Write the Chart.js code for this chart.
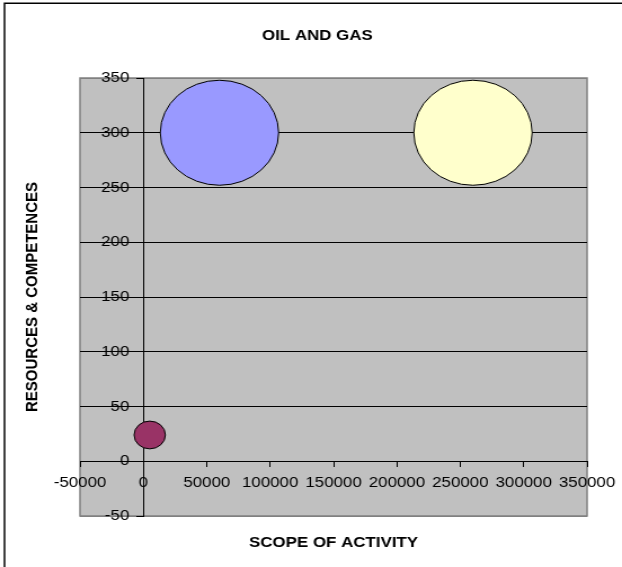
<!DOCTYPE html>
<html>
<head>
<meta charset="utf-8">
<script src="https://cdn.jsdelivr.net/npm/chart.js@4/dist/chart.umd.min.js"></script>
<style>
  html, body { margin: 0; padding: 0; background: #fff; overflow: hidden; }
  /* the chart is laid out narrower and widened to the page, giving the oval bubbles */
  #wrap { width: 552px; height: 567px; transform: scaleX(1.126812); transform-origin: 0 0; }
</style>
</head>
<body>
<div id="wrap"><canvas id="chart" width="552" height="567"></canvas></div>
<script>
// ---- data ----
const seriesNames = ['Series1', 'Series2', 'Series3'];
const scopeOfActivity = [60000, 5000, 260000];
const resourcesCompetences = [300, 24, 300];
const bubbleSizes = [100, 7, 100];
const seriesColors = ['#9999FF', '#993366', '#FFFFCC'];

const xTickValues = [-50000, 0, 50000, 100000, 150000, 200000, 250000, 300000, 350000];
const yTickValues = [-50, 0, 50, 100, 150, 200, 250, 300, 350];

// ---- styling ----
const FONT = 'Liberation Sans, Arial, Helvetica, sans-serif';
const MAX_RADIUS = 52.5;
const maxSize = Math.max(...bubbleSizes);

Chart.defaults.font.family = FONT;
Chart.defaults.color = '#000';

// axes that cross at zero should not push the plot area around
const noLayoutPadding = s => { s.paddingLeft = 0; s.paddingRight = 0; s.paddingTop = 0; s.paddingBottom = 0; };

// grey plot area, its outline and the outer chart frame
const plotBackground = {
  id: 'plotBackground',
  beforeDraw(chart) {
    const { ctx, chartArea: a } = chart;
    ctx.save();
    ctx.fillStyle = '#fff';
    ctx.fillRect(0, 0, chart.width, chart.height);
    ctx.fillStyle = '#C0C0C0';
    ctx.fillRect(a.left, a.top, a.right - a.left, a.bottom - a.top);
    ctx.strokeStyle = '#808080';
    ctx.lineWidth = 1.5;
    ctx.strokeRect(a.left, a.top, a.right - a.left, a.bottom - a.top);
    ctx.strokeStyle = '#000';
    ctx.lineWidth = 1.5;
    ctx.strokeRect(4, 3.25, 700, 700);
    ctx.restore();
  }
};

const edgeValues = [yTickValues[0], yTickValues[yTickValues.length - 1]];

new Chart(document.getElementById('chart'), {
  type: 'bubble',
  data: {
    datasets: seriesNames.map((name, i) => ({
      label: name,
      data: [{
        x: scopeOfActivity[i],
        y: resourcesCompetences[i],
        r: MAX_RADIUS * Math.sqrt(bubbleSizes[i] / maxSize)
      }],
      backgroundColor: seriesColors[i],
      borderColor: '#000',
      borderWidth: 1,
      hoverRadius: 0
    }))
  },
  options: {
    responsive: false,
    animation: false,
    devicePixelRatio: 1,
    events: [],
    layout: { autoPadding: false, padding: { left: 11.4, right: 0, top: 0, bottom: 10 } },
    plugins: {
      legend: { display: false },
      tooltip: { enabled: false },
      title: {
        display: true,
        text: 'OIL AND GAS',
        color: '#000',
        font: { size: 15, weight: 'bold' },
        padding: { top: 27, bottom: 33 }
      }
    },
    scales: {
      x: {
        type: 'linear',
        position: { y: 0 },
        min: xTickValues[0],
        max: xTickValues[xTickValues.length - 1],
        afterBuildTicks: s => { s.ticks = xTickValues.map(v => ({ value: v })); },
        afterFit: noLayoutPadding,
        ticks: {
          color: '#000',
          font: { size: 15 },
          padding: 8,
          maxRotation: 0,
          autoSkip: false,
          callback: v => String(v)
        },
        grid: { drawOnChartArea: false, drawTicks: true, tickLength: 5, tickColor: '#000' },
        border: { color: '#000', width: 1 }
      },
      y: {
        type: 'linear',
        position: { x: 0 },
        min: yTickValues[0],
        max: yTickValues[yTickValues.length - 1],
        afterBuildTicks: s => { s.ticks = yTickValues.map(v => ({ value: v })); },
        afterFit: noLayoutPadding,
        ticks: {
          color: '#000',
          font: { size: 15 },
          autoSkip: false,
          callback: v => String(v) + '   '
        },
        grid: {
          color: c => (c.tick && edgeValues.includes(c.tick.value)) ? '#808080' : '#000',
          lineWidth: 1,
          tickLength: 6,
          tickColor: '#000'
        },
        border: { color: '#000', width: 1 }
      },
      xTitle: {
        type: 'linear',
        axis: 'x',
        position: 'bottom',
        min: 0, max: 1,
        grid: { display: false, drawTicks: false },
        border: { display: false },
        ticks: { display: false },
        title: {
          display: true,
          text: 'SCOPE OF ACTIVITY',
          color: '#000',
          font: { size: 15, weight: 'bold' },
          padding: { top: 18, bottom: 5 }
        }
      },
      yTitle: {
        type: 'linear',
        axis: 'y',
        position: 'left',
        min: 0, max: 1,
        grid: { display: false, drawTicks: false },
        border: { display: false },
        ticks: { display: false },
        title: {
          display: true,
          text: 'RESOURCES & COMPETENCES',
          color: '#000',
          font: { size: 15, weight: 'bold' },
          padding: { top: 8, bottom: 33.6 }
        }
      },
      rightGap: {
        type: 'linear',
        axis: 'y',
        position: 'right',
        min: 0, max: 1,
        grid: { display: false, drawTicks: false },
        border: { display: false },
        ticks: { display: false },
        afterFit: s => { s.width = 31; }
      }
    }
  },
  plugins: [plotBackground]
});
</script>
</body>
</html>
